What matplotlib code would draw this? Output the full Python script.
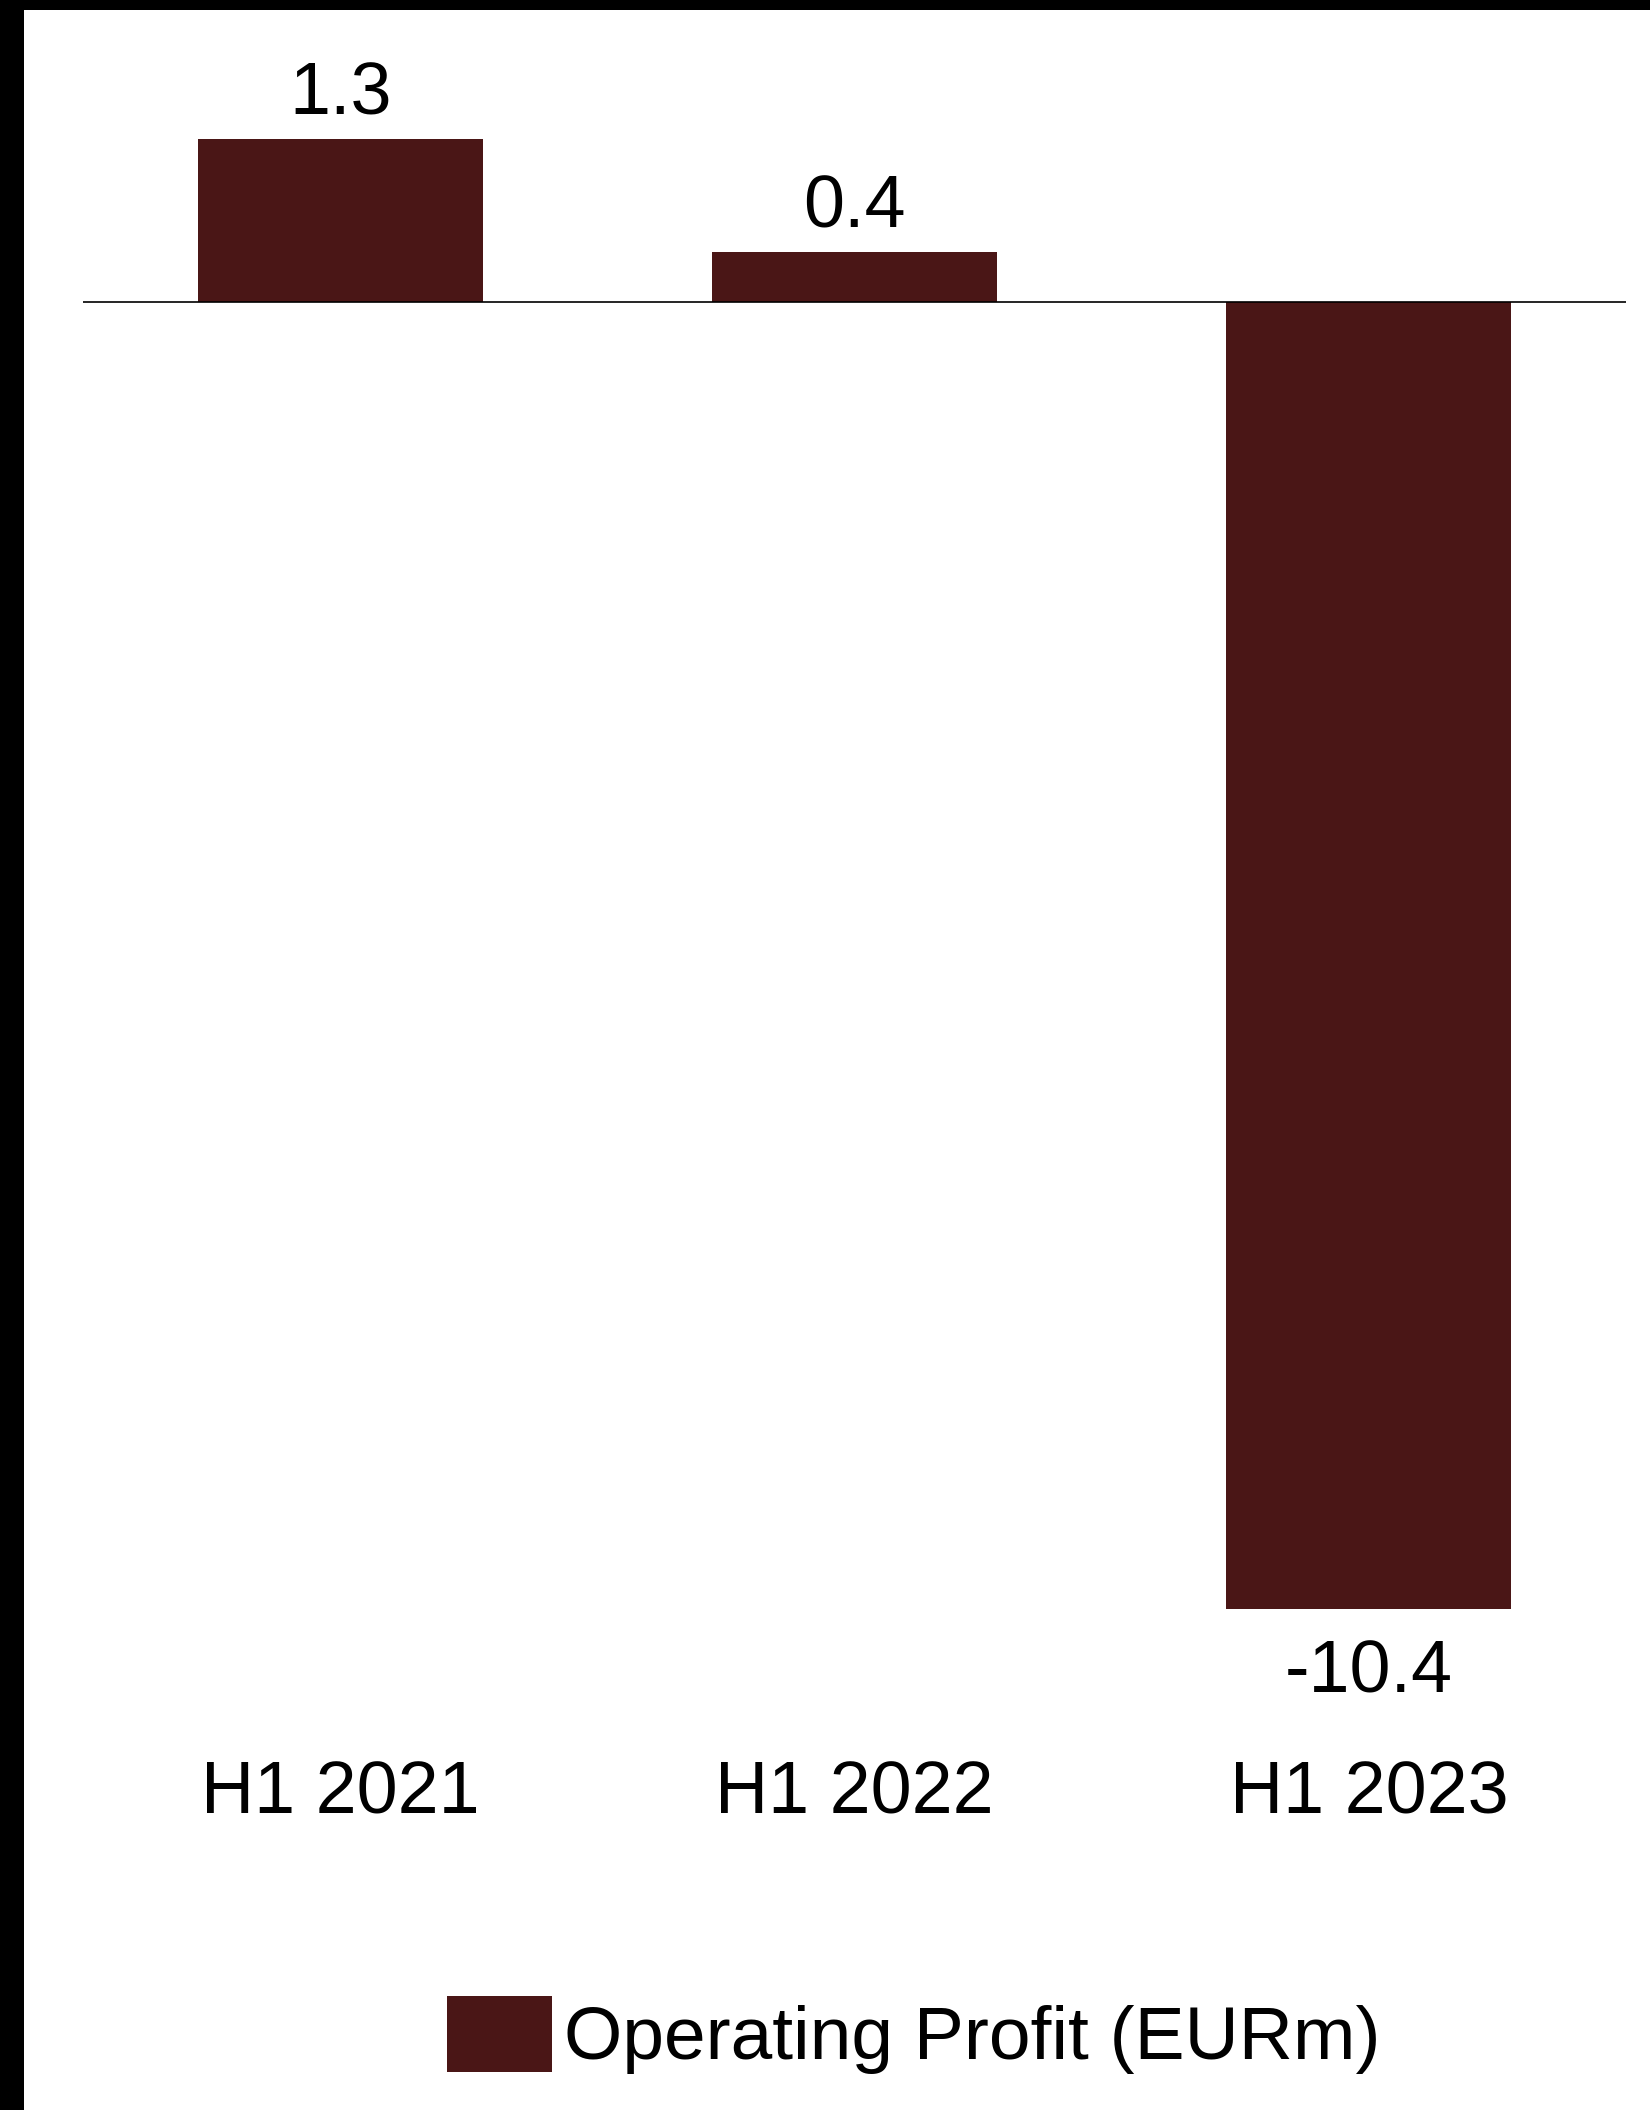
import matplotlib
matplotlib.use("Agg")
import matplotlib.pyplot as plt
from matplotlib.patches import Rectangle

# Data
periods = ["H1 2021", "H1 2022", "H1 2023"]
operating_profit = [1.3, 0.4, -10.4]
series_name = "Operating Profit (EURm)"

BAR_COLOR = "#4A1616"

plt.rcParams["font.family"] = ["Liberation Sans", "DejaVu Sans"]

fig = plt.figure(figsize=(16.5, 21.1), dpi=100)
fig.patch.set_facecolor("white")

# black frame strips at top and left
fig.patches.append(Rectangle((0, 1 - 10 / 2110), 1, 10 / 2110, transform=fig.transFigure,
                             facecolor="black", edgecolor="none", zorder=10))
fig.patches.append(Rectangle((0, 0), 24 / 1650, 1, transform=fig.transFigure,
                             facecolor="black", edgecolor="none", zorder=10))

ax = fig.add_axes([0.0503, 0.23744, 0.9352, 0.69668])
x = range(len(periods))
bars = ax.bar(x, operating_profit, width=0.554, color=BAR_COLOR, label=series_name, zorder=2)

ax.set_xlim(-0.5, 2.5)
ax.set_ylim(-10.4, 1.3)
ax.axhline(0, color="black", linewidth=1.2, zorder=3)

for spine in ax.spines.values():
    spine.set_visible(False)
ax.set_yticks([])
ax.set_xticks(list(x))
ax.set_xticklabels(periods, fontsize=53)
ax.tick_params(axis="x", length=0, pad=108)

# value labels
for rect, val in zip(bars, operating_profit):
    cx = rect.get_x() + rect.get_width() / 2
    if val >= 0:
        ax.annotate(f"{val:.1f}", (cx, val), xytext=(0, 18), textcoords="offset points",
                    ha="center", va="baseline", fontsize=53, annotation_clip=False)
    else:
        ax.annotate(f"{val:.1f}", (cx, val), xytext=(0, -60), textcoords="offset points",
                    ha="center", va="baseline", fontsize=53, annotation_clip=False)

fig.legend(loc="center", bbox_to_anchor=(0.5535, 0.0355), frameon=False, fontsize=54,
           handlelength=1.41, handleheight=1.19, handletextpad=0.15, borderpad=0)

fig.savefig("out.png", dpi=100)
